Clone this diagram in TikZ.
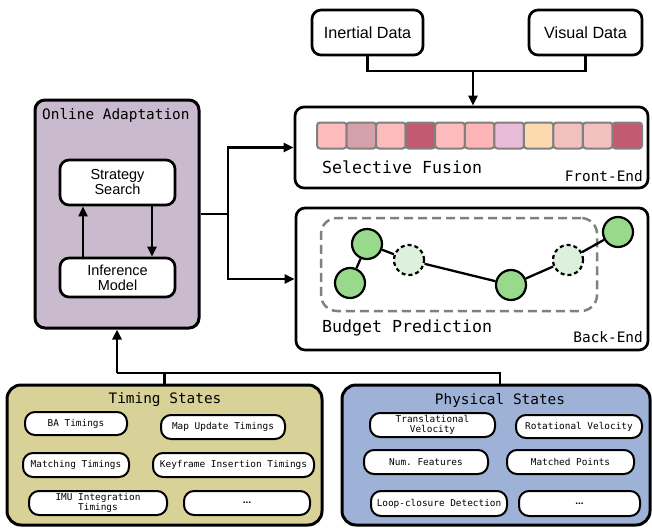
\documentclass[tikz,border=0pt]{standalone}
\usepackage{fontspec}
\setmainfont{Liberation Sans}
\setmonofont{DejaVu Sans Mono}
\usetikzlibrary{arrows.meta}
\definecolor{oafill}{RGB}{201,186,205}
\definecolor{tsfill}{RGB}{217,210,152}
\definecolor{psfill}{RGB}{158,177,214}
\definecolor{gfill}{RGB}{153,217,140}
\definecolor{lgfill}{RGB}{221,240,219}
\definecolor{cellgray}{RGB}{128,128,128}
\definecolor{cA}{RGB}{253,187,187}
\definecolor{cB}{RGB}{212,160,170}
\definecolor{cC}{RGB}{194,90,114}
\definecolor{cD}{RGB}{253,181,181}
\definecolor{cE}{RGB}{232,188,214}
\definecolor{cF}{RGB}{252,217,174}
\definecolor{cG}{RGB}{243,192,192}
\begin{document}
\begin{tikzpicture}[x=1pt,y=-1pt,
  box/.style={draw, line width=2.7pt, rounded corners=9pt, inner sep=0pt, fill=white},
  panel/.style={draw, line width=3pt, rounded corners=14pt, inner sep=0pt},
  pill/.style={draw, line width=2pt, rounded corners=10pt, fill=white, inner sep=0pt,
    font=\ttfamily\fontsize{9.4}{10.5}\selectfont, align=center},
  sanslbl/.style={font=\fontsize{14.5}{15}\selectfont, align=center},
  monolbl/.style={font=\ttfamily\fontsize{14.4}{16}\selectfont, inner sep=0pt},
  biglbl/.style={font=\ttfamily\fontsize{16.6}{18}\selectfont, inner sep=0pt},
  cell/.style={draw=cellgray, line width=2pt, rounded corners=3pt, minimum width=29.55pt, minimum height=26pt, inner sep=0pt},
  gnode/.style={circle, draw, line width=2.2pt, fill=gfill, minimum size=30pt, inner sep=0pt},
  dnode/.style={circle, draw, line width=2.2pt, dash pattern=on 4pt off 3pt, fill=lgfill, minimum size=30pt, inner sep=0pt},
  conn/.style={line width=2.7pt},
  arr/.style={line width=2.7pt, -{Triangle[length=10pt,width=9pt]}},
  edge/.style={line width=2.3pt}
]
\useasboundingbox (0,0) rectangle (652,527);

% top data boxes
\node[box, minimum width=111pt, minimum height=45pt, font=\fontsize{16.2}{18}\selectfont] (inertial) at (367.5,32.5) {Inertial Data};
\node[box, minimum width=113pt, minimum height=45pt, font=\fontsize{16.2}{18}\selectfont] (visual) at (585.5,32.5) {Visual Data};

% front-end
\node[box, minimum width=353pt, minimum height=81pt] (fe) at (471.5,147.5) {};
\foreach \c [count=\i from 0] in {cA,cB,cA,cC,cA,cD,cE,cF,cG,cG,cC}
  \node[cell, fill=\c] (cell\i) at ({317+29.55*\i+14.775},135.5) {};
\node[biglbl, anchor=west] (sflbl) at (322,167) {Selective Fusion};
\node[monolbl, anchor=east] (felbl) at (643,176) {Front-End};

% back-end
\node[box, minimum width=352pt, minimum height=142pt] (be) at (472,279) {};
\node[draw=cellgray, dash pattern=on 9pt off 5pt, line width=2.5pt, rounded corners=16pt,
      minimum width=276pt, minimum height=93pt] (grp) at (459,264.5) {};
\node[gnode] (nA) at (367,244) {};
\node[gnode] (nB) at (350,283) {};
\node[dnode] (nC) at (409,260) {};
\node[gnode] (nD) at (511,285) {};
\node[dnode] (nE) at (568,260) {};
\node[gnode] (nF) at (618,232) {};
\draw[edge] (nA) -- (nB);
\draw[edge] (nA) -- (nC);
\draw[edge] (nC) -- (nD);
\draw[edge] (nD) -- (nE);
\draw[edge] (nE) -- (nF);
\node[biglbl, anchor=west] (bplbl) at (322,328) {Budget Prediction};
\node[monolbl, anchor=east] (belbl) at (643,337) {Back-End};

% online adaptation
\node[panel, fill=oafill, rounded corners=10pt, minimum width=164pt, minimum height=228pt] (oa) at (117,214) {};
\node[monolbl, anchor=west] (oalbl) at (42,115) {Online Adaptation};
\node[box, sanslbl, minimum width=115pt, minimum height=45pt] (ss) at (117.5,182.5) {Strategy\\Search};
\node[box, sanslbl, minimum width=115pt, minimum height=39pt] (inf) at (117.5,277.5) {Inference\\Model};
\draw[arr] ([xshift=-34.5pt]inf.north) -- ([xshift=-34.5pt]ss.south);
\draw[arr] ([xshift=34.5pt]ss.south) -- ([xshift=34.5pt]inf.north);

% timing states
\node[panel, fill=tsfill, minimum width=315pt, minimum height=140pt] (ts) at (164.5,455) {};
\node[monolbl] (tslbl) at (165,400) {Timing States};
\node[pill, minimum width=102pt, minimum height=23pt] (bat) at (76,423.5) {BA Timings};
\node[pill, minimum width=124pt, minimum height=24pt] (mut) at (223,427) {Map Update Timings};
\node[pill, minimum width=106pt, minimum height=24pt] (mat) at (76,465) {Matching Timings};
\node[pill, minimum width=161pt, minimum height=24pt] (kit) at (233.5,465) {Keyframe Insertion Timings};
\node[pill, minimum width=138pt, minimum height=24pt] (imu) at (98,503) {IMU Integration\\Timings};
\node[pill, minimum width=126pt, minimum height=24pt, font=\bfseries\fontsize{10}{11}\selectfont] (tdots) at (247,503) {...};

% physical states
\node[panel, fill=psfill, minimum width=308pt, minimum height=140pt] (ps) at (496,455) {};
\node[monolbl] (pslbl) at (500,400) {Physical States};
\node[pill, minimum width=125pt, minimum height=24pt] (tv) at (432.5,425) {Translational\\Velocity};
\node[pill, minimum width=126pt, minimum height=23pt] (rv) at (579,426.5) {Rotational Velocity};
\node[pill, minimum width=124pt, minimum height=24pt] (nf) at (426,462) {Num. Features};
\node[pill, minimum width=127pt, minimum height=24pt] (mp) at (570.5,462) {Matched Points};
\node[pill, minimum width=136pt, minimum height=25pt] (lc) at (439,503.5) {Loop-closure Detection};
\node[pill, minimum width=121pt, minimum height=25pt, font=\bfseries\fontsize{10}{11}\selectfont] (pdots) at (579.5,503.5) {...};

% connectors
\coordinate (fj) at (473,71);
\draw[conn] (inertial.south) |- (fj) -| (visual.south);
\draw[arr] (fj) -- (fj |- fe.north);
\coordinate (bj) at (228,214);
\draw[conn] (oa.east) -- (bj);
\draw[arr] (bj) |- (fe.west);
\draw[arr] (bj) |- (be.west);
\coordinate (sj) at (117,373);
\draw[conn] (ts.north) |- (sj);
\draw[conn] ([xshift=4pt]ps.north) |- (sj);
\draw[arr] (sj) -- (sj |- oa.south);
\end{tikzpicture}
\end{document}
